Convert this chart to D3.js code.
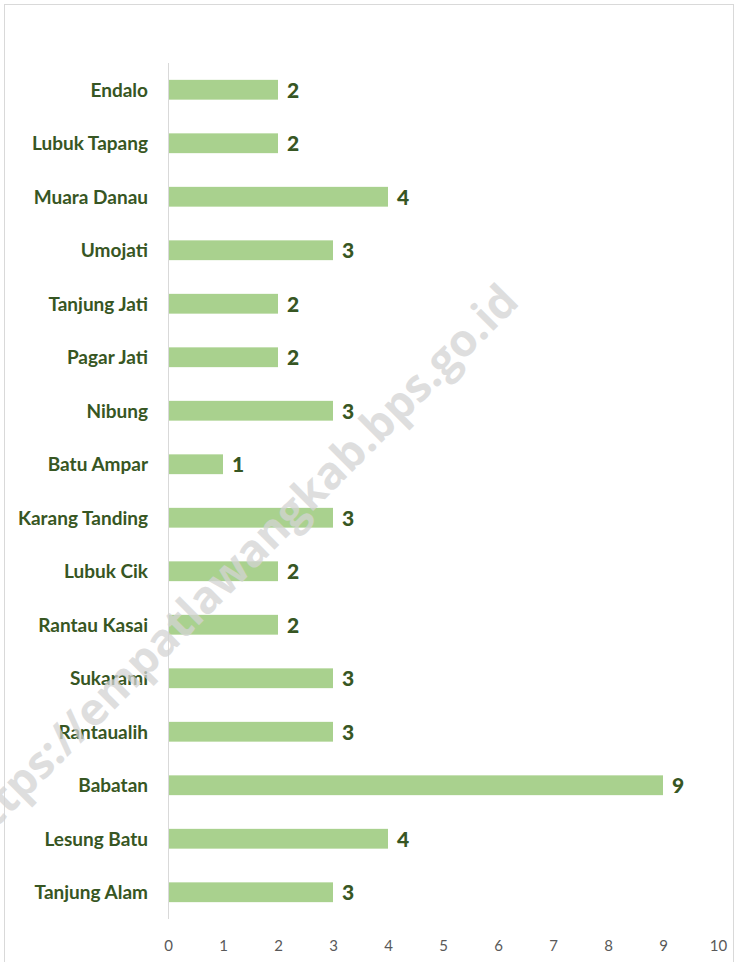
<!DOCTYPE html>
<html>
<head>
<script src="https://d3js.org/d3.v7.min.js"></script>
<style>
  html, body { margin: 0; padding: 0; background: #fff; }
  svg { display: block; }
</style>
</head>
<body>
<div id="chart"></div>
<script>
// villages, top to bottom
var villages = ["Endalo", "Lubuk Tapang", "Muara Danau", "Umojati", "Tanjung Jati",
  "Pagar Jati", "Nibung", "Batu Ampar", "Karang Tanding", "Lubuk Cik",
  "Rantau Kasai", "Sukarami", "Rantaualih", "Babatan", "Lesung Batu", "Tanjung Alam"];
var counts = [2, 2, 4, 3, 2, 2, 3, 1, 3, 2, 2, 3, 3, 9, 4, 3];
var xTicks = [0, 1, 2, 3, 4, 5, 6, 7, 8, 9, 10];
var watermark = "https://empatlawangkab.bps.go.id";

var width = 736, height = 962;
var margin = {top: 63, left: 168, right: 18, bottom: 43};

var svg = d3.select("#chart").append("svg")
    .attr("width", width)
    .attr("height", height);

// chart frame
svg.append("rect")
    .attr("x", 4.5).attr("y", 4.5)
    .attr("width", 729).attr("height", 1000)
    .attr("fill", "none")
    .attr("stroke", "#d9d9d9");

var x = d3.scaleLinear().domain([0, 10]).range([margin.left, width - margin.right]);
var y = d3.scaleBand().domain(villages)
    .range([margin.top, height - margin.bottom])
    .paddingInner(0.63).paddingOuter(0.315);

// bars
svg.selectAll("rect.bar")
    .data(villages)
    .enter().append("rect")
    .attr("class", "bar")
    .attr("x", x(0))
    .attr("y", function(d) { return y(d); })
    .attr("width", function(d, i) { return x(counts[i]) - x(0); })
    .attr("height", y.bandwidth())
    .attr("fill", "#a9d18e");

// vertical axis line
svg.append("line")
    .attr("x1", x(0) + 0.5).attr("x2", x(0) + 0.5)
    .attr("y1", margin.top).attr("y2", height - margin.bottom)
    .attr("stroke", "#d9d9d9");

// category labels
svg.selectAll("text.cat")
    .data(villages)
    .enter().append("text")
    .attr("class", "cat")
    .attr("x", 148)
    .attr("y", function(d) { return y(d) + y.bandwidth() / 2; })
    .attr("dy", "0.36em")
    .attr("text-anchor", "end")
    .style("font-family", "Lato, 'Open Sans', sans-serif")
    .style("font-weight", "bold")
    .style("font-size", "19px")
    .attr("fill", "#375623")
    .text(function(d) { return d; });

// value labels
svg.selectAll("text.val")
    .data(villages)
    .enter().append("text")
    .attr("class", "val")
    .attr("x", function(d, i) { return x(counts[i]) + 9; })
    .attr("y", function(d) { return y(d) + y.bandwidth() / 2; })
    .attr("dy", "0.38em")
    .style("font-family", "Lato, 'Open Sans', sans-serif")
    .style("font-weight", "900")
    .style("font-size", "21px")
    .attr("fill", "#375623")
    .text(function(d, i) { return counts[i]; });

// x axis (labels only)
var xAxis = svg.append("g")
    .attr("transform", "translate(0," + (height - margin.bottom) + ")")
    .call(d3.axisBottom(x).tickValues(xTicks).tickSize(0).tickPadding(21));
xAxis.select(".domain").remove();
xAxis.selectAll("text")
    .style("font-family", "Lato, 'Open Sans', sans-serif")
    .style("font-size", "15px")
    .attr("fill", "#595959");

// watermark
svg.append("text")
    .attr("transform", "translate(236,566) rotate(-45)")
    .attr("text-anchor", "middle")
    .attr("dy", "0.35em")
    .style("font-family", "'Open Sans', sans-serif")
    .style("font-weight", "bold")
    .style("font-size", "45px")
    .attr("fill", "#d4d4d4")
    .attr("fill-opacity", 0.75)
    .text(watermark);
</script>
</body>
</html>
